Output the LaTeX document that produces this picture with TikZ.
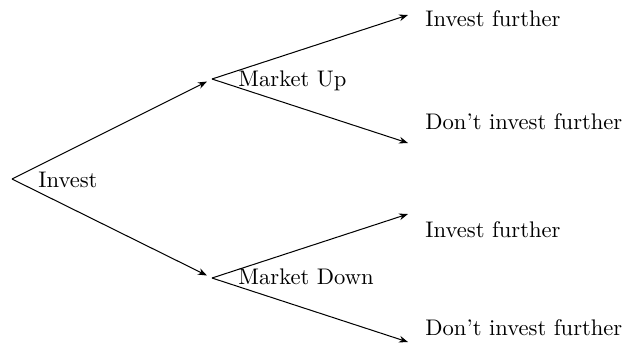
\documentclass[tikz,border=0pt]{standalone}
\usetikzlibrary{arrows.meta}
\begin{document}
\begin{tikzpicture}[x=0.443pt,y=-0.443pt,
  branch/.style={-{Stealth[length=4pt,width=3pt]}, line width=0.45pt},
  lbl/.style={anchor=base west, inner sep=0pt, font=\normalsize}]
\useasboundingbox (0,0) rectangle (623,348);
% vertices
\coordinate (root) at (12,179);
\coordinate (up) at (212,79);
\coordinate (down) at (212,278);
\coordinate (e1) at (408,15);
\coordinate (e2) at (408,143);
\coordinate (e3) at (408,214);
\coordinate (e4) at (408,342);
% labels
\node[lbl] (lroot) at (38,187) {Invest};
\node[lbl] (lup) at (238,86) {Market Up};
\node[lbl] (ldown) at (238,284) {Market Down};
\node[lbl] (l1) at (425,26) {Invest further};
\node[lbl] (l2) at (425,129) {Don't invest further};
\node[lbl] (l3) at (425,237) {Invest further};
\node[lbl] (l4) at (425,335) {Don't invest further};
% connectors
\draw[branch, shorten >=2.5pt] (root) -- (up);
\draw[branch, shorten >=2.5pt] (root) -- (down);
\draw[branch] (up) -- (e1);
\draw[branch] (up) -- (e2);
\draw[branch] (down) -- (e3);
\draw[branch] (down) -- (e4);
\end{tikzpicture}
\end{document}
